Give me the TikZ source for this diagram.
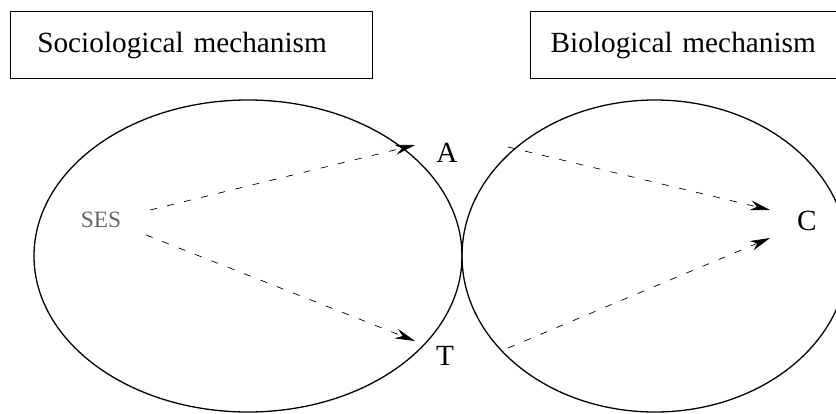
\documentclass[tikz,border=0pt]{standalone}
\usepackage{fontspec}
\setmainfont{Liberation Serif}
\usetikzlibrary{positioning, arrows.meta, shapes.geometric}

\begin{document}
\begin{tikzpicture}[x=0.03cm, y=-0.03cm, font=\fontsize{25}{30}\selectfont,
    mechbox/.style={draw, line width=1.1pt, anchor=north west, align=left,
      minimum height=2.01cm},
    mechring/.style={draw, ellipse, line width=1.1pt, inner sep=0pt,
      minimum height=9.36cm},
    pathway/.style={line width=0.6pt, dash pattern=on 6pt off 9pt,
      -{Stealth[length=6mm, width=3mm]}},
  ]
  \useasboundingbox (0,0) rectangle (836,413);

  % the two headings
  \node[mechbox, minimum width=10.86cm, inner xsep=0.8cm, text width=9.26cm]
    (socbox) at (10,11) {Sociological mechanism};
  \node[mechbox, minimum width=11.13cm, inner xsep=0.6cm, text width=9.93cm]
    (biobox) at (530,11) {Biological mechanism};

  % the two mechanisms, touching in the middle
  \node[mechring, minimum width=12.84cm] (socring) at (248,256) {};
  \node[mechring, minimum width=11.58cm] (bioring) at (655,256) {};

  % labels
  \node[font=\fontsize{20}{24}\selectfont, text=black!60] (ses) at (101,220) {SES};
  \node (att) at (447,153) {A};
  \node (tre) at (445,356) {T};
  \node (cop) at (807,221) {C};

  % end points of the pathways
  \coordinate (sesA) at (150,210);
  \coordinate (sesT) at (146,235);
  \coordinate (attIn) at (415,145);
  \coordinate (treIn) at (415,341);
  \coordinate (attOut) at (508,147);
  \coordinate (treOut) at (508,348);
  \coordinate (copA) at (770,210);
  \coordinate (copT) at (770,238);

  \draw[pathway] (sesA) -- (attIn);
  \draw[pathway] (sesT) -- (treIn);
  \draw[pathway] (attOut) -- (copA);
  \draw[pathway] (treOut) -- (copT);
\end{tikzpicture}
\end{document}
